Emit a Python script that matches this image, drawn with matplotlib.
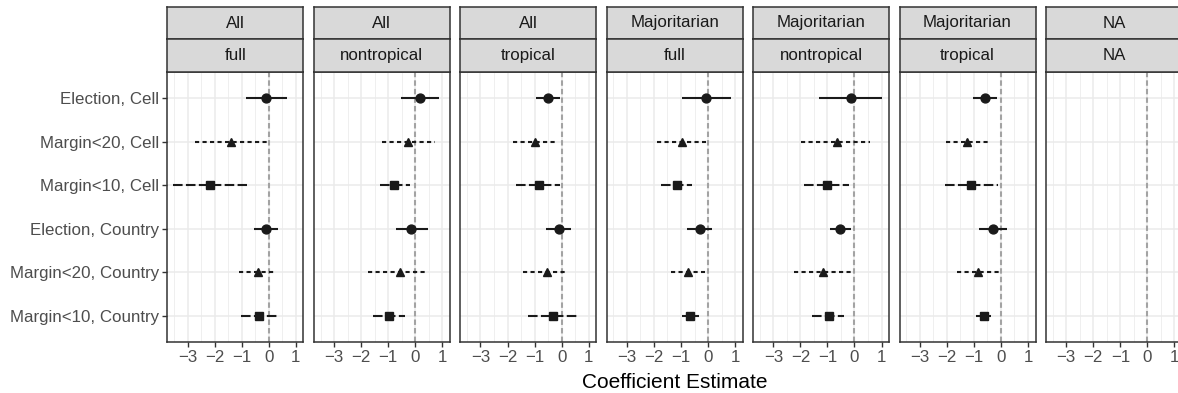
import matplotlib.pyplot as plt
import numpy as np

plt.rcParams['font.family'] = ['Liberation Sans', 'DejaVu Sans']

# model specifications, top to bottom
terms = ['Election, Cell', 'Margin<20, Cell', 'Margin<10, Cell',
         'Election, Country', 'Margin<20, Country', 'Margin<10, Country']

# facet labels (two strip rows)
system = ['All', 'All', 'All', 'Majoritarian', 'Majoritarian', 'Majoritarian', 'NA']
sample = ['full', 'nontropical', 'tropical', 'full', 'nontropical', 'tropical', 'NA']

# point estimates per facet (one value per term)
est = [
    [-0.09, -1.40, -2.17, -0.11, -0.40, -0.36],
    [0.17, -0.26, -0.77, -0.14, -0.56, -0.95],
    [-0.51, -0.98, -0.83, -0.11, -0.53, -0.30],
    [-0.06, -0.98, -1.15, -0.31, -0.75, -0.65],
    [-0.14, -0.65, -1.01, -0.52, -1.17, -0.93],
    [-0.58, -1.25, -1.10, -0.31, -0.85, -0.64],
    [],
]
# lower / upper confidence bounds
lo = [
    [-0.83, -2.73, -3.55, -0.53, -1.11, -1.04],
    [-0.54, -1.23, -1.31, -0.69, -1.76, -1.56],
    [-0.94, -1.78, -1.68, -0.57, -1.41, -1.25],
    [-0.96, -1.88, -1.75, -0.77, -1.38, -0.95],
    [-1.31, -1.96, -1.88, -0.91, -2.22, -1.57],
    [-1.02, -2.05, -2.07, -0.81, -1.64, -0.94],
    [],
]
hi = [
    [0.67, -0.05, -0.79, 0.33, 0.23, 0.33],
    [0.90, 0.72, -0.20, 0.46, 0.48, -0.37],
    [-0.06, -0.15, -0.05, 0.35, 0.22, 0.61],
    [0.85, -0.07, -0.58, 0.14, -0.12, -0.35],
    [1.02, 0.58, -0.22, -0.12, -0.09, -0.38],
    [-0.14, -0.42, -0.10, 0.22, -0.01, -0.35],
    [],
]

markers = ['o', '^', 's', 'o', '^', 's']
styles = ['-', (0, (2.0, 1.6)), (0, (4.6, 1.6)),
          '-', (0, (2.0, 1.6)), (0, (4.6, 1.6))]

W, H = 1178, 393
fig = plt.figure(figsize=(W / 100, H / 100), dpi=100)

left0, pitch, pw = 167.3, 146.45, 136.0
ptop, pbot = 72.0, 341.7
strip_edges = [7.0, 39.0, 72.0]
dark = '#333333'
grid = '#EBEBEB'
ypos = np.arange(1, len(terms) + 1)

for i in range(len(system)):
    x0 = left0 + i * pitch
    ax = fig.add_axes([x0 / W, (H - pbot) / H, pw / W, (pbot - ptop) / H])
    ax.set_xlim(-3.75, 1.28)
    ax.set_ylim(6.6, 0.4)
    ax.set_xticks([-3, -2, -1, 0, 1])
    ax.set_xticks([-3.5, -2.5, -1.5, -0.5, 0.5], minor=True)
    ax.set_yticks(ypos)
    ax.grid(True, which='major', color=grid, linewidth=1.1, zorder=0)
    ax.grid(True, which='minor', axis='x', color=grid, linewidth=0.55, zorder=0)
    ax.set_axisbelow(True)
    ax.tick_params(which='major', length=3.7, width=1.0, color=dark,
                   labelsize=12.2, labelcolor='#4D4D4D', pad=2)
    ax.tick_params(which='minor', length=0)
    if i == 0:
        ax.set_yticklabels(terms)
    else:
        ax.tick_params(axis='y', length=0, labelleft=False)
    for s in ax.spines.values():
        s.set_color(dark)
        s.set_linewidth(1.1)

    ax.axvline(0, color='#A3A3A3', linewidth=1.5, linestyle=(0, (2.6, 1.5)), zorder=1)

    for j in range(len(est[i])):
        ax.plot([lo[i][j], hi[i][j]], [ypos[j], ypos[j]], color='#1A1A1A',
                linewidth=1.5, linestyle=styles[j], dash_capstyle='butt',
                solid_capstyle='butt', zorder=2)
        ax.plot(est[i][j], ypos[j], marker=markers[j], color='#1A1A1A',
                markersize=6.4 if markers[j] != 's' else 5.8, linestyle='none', zorder=3)

    # two strip rows above each panel
    labels = [system[i], sample[i]]
    for k in range(2):
        st, sb = strip_edges[k], strip_edges[k + 1]
        sax = fig.add_axes([x0 / W, (H - sb) / H, pw / W, (sb - st) / H])
        sax.set_facecolor('#D9D9D9')
        sax.set_xticks([])
        sax.set_yticks([])
        for s in sax.spines.values():
            s.set_color(dark)
            s.set_linewidth(1.1)
        sax.text(0.5, 0.5, labels[k], ha='center', va='center',
                 fontsize=12.2, color='#1A1A1A', transform=sax.transAxes)

fig.text((left0 + 6 * pitch + pw + left0) / 2 / W, 1 - 383 / H, 'Coefficient Estimate',
         ha='center', va='center', fontsize=15, color='black')

fig.savefig('out.png', dpi=100)
